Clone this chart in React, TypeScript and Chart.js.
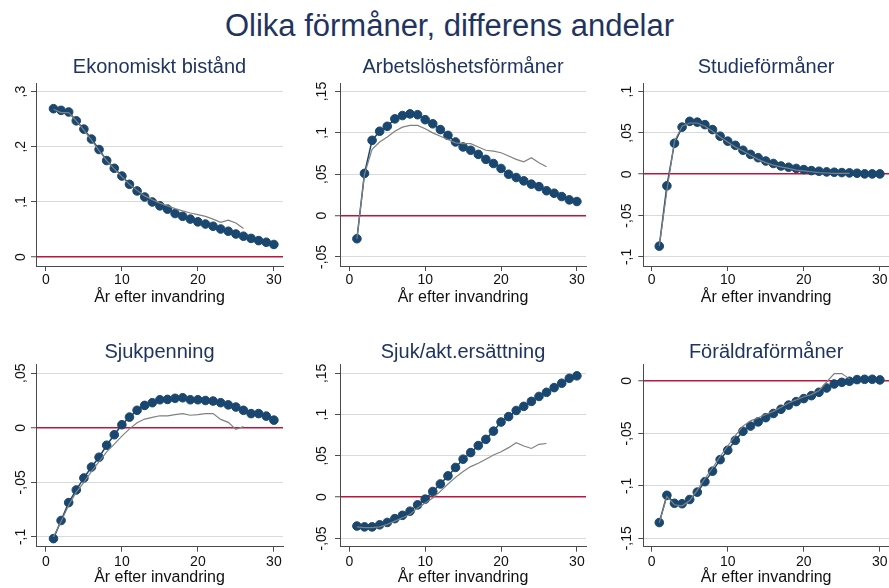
import React, { useEffect, useRef } from 'react';
import { Chart, registerables } from 'chart.js';

Chart.register(...registerables);

const FONT = '"Liberation Sans", Arial, Helvetica, sans-serif';
const NAVY = '#1a476f';
const GRAY = '#808080';
const TITLE_COLOR = '#1f3461';
const RED = '#c0143c';
const GRID = '#d9d9d9';
const AXIS = '#4a4a4a';
const TEXT = '#111111';
const TICK_SIZE = 14;
const TICK_LEN = 5;

// ---------- data ----------
const mainTitle = 'Olika förmåner, differens andelar';
const xTitle = 'År efter invandring';
const xTicks = [0, 10, 20, 30];

const years = [1, 2, 3, 4, 5, 6, 7, 8, 9, 10, 11, 12, 13, 14, 15, 16, 17, 18, 19, 20, 21, 22, 23, 24, 25, 26, 27, 28, 29, 30];
const yearsRef = [1, 2, 3, 4, 5, 6, 7, 8, 9, 10, 11, 12, 13, 14, 15, 16, 17, 18, 19, 20, 21, 22, 23, 24, 25, 26];

const ekonomisktBistand = [0.269, 0.266, 0.263, 0.247, 0.232, 0.214, 0.195, 0.175, 0.161, 0.147, 0.132, 0.120, 0.109, 0.100, 0.093, 0.087, 0.079, 0.074, 0.069, 0.064, 0.060, 0.056, 0.051, 0.047, 0.042, 0.038, 0.034, 0.030, 0.027, 0.023];
const ekonomisktBistandRef = [0.268, 0.262, 0.262, 0.247, 0.230, 0.212, 0.193, 0.175, 0.160, 0.146, 0.132, 0.121, 0.111, 0.104, 0.098, 0.093, 0.088, 0.084, 0.080, 0.077, 0.074, 0.069, 0.063, 0.067, 0.062, 0.052];

const arbetsloshet = [-0.028, 0.051, 0.091, 0.102, 0.108, 0.117, 0.121, 0.123, 0.122, 0.116, 0.111, 0.104, 0.097, 0.089, 0.083, 0.079, 0.074, 0.068, 0.063, 0.057, 0.050, 0.046, 0.042, 0.038, 0.035, 0.030, 0.027, 0.023, 0.019, 0.017];
const arbetsloshetRef = [-0.028, 0.050, 0.080, 0.089, 0.095, 0.102, 0.107, 0.109, 0.109, 0.105, 0.100, 0.096, 0.092, 0.088, 0.087, 0.087, 0.083, 0.079, 0.078, 0.076, 0.072, 0.068, 0.065, 0.070, 0.064, 0.059];

const studie = [-0.087, -0.014, 0.0375, 0.057, 0.064, 0.063, 0.060, 0.054, 0.046, 0.040, 0.035, 0.029, 0.024, 0.020, 0.016, 0.013, 0.010, 0.0085, 0.007, 0.0056, 0.0044, 0.0036, 0.0028, 0.0024, 0.002, 0.0016, 0.0012, 0.0004, 0.0004, 0.0004];
const studieRef = [-0.087, -0.020, 0.040, 0.058, 0.062, 0.062, 0.058, 0.052, 0.045, 0.039, 0.033, 0.028, 0.023, 0.018, 0.014, 0.011, 0.009, 0.007, 0.005, 0.004, 0.003, 0.002, 0.0015, 0.001, 0.001, 0.001];

const sjukpenning = [-0.1016, -0.085, -0.0686, -0.057, -0.046, -0.036, -0.027, -0.016, -0.0064, 0.0028, 0.0098, 0.016, 0.0205, 0.023, 0.0257, 0.026, 0.027, 0.0275, 0.0257, 0.0257, 0.025, 0.0245, 0.023, 0.021, 0.019, 0.016, 0.013, 0.013, 0.0107, 0.007];
const sjukpenningRef = [-0.100, -0.086, -0.071, -0.059, -0.050, -0.040, -0.031, -0.022, -0.015, -0.0077, -0.001, 0.0046, 0.008, 0.0095, 0.011, 0.011, 0.012, 0.013, 0.0115, 0.012, 0.013, 0.013, 0.0077, 0.005, -0.0015, 0.001];

const sjukAkt = [-0.035, -0.036, -0.036, -0.0335, -0.0306, -0.026, -0.022, -0.017, -0.0093, -0.0024, 0.0069, 0.016, 0.0258, 0.036, 0.046, 0.054, 0.0625, 0.070, 0.080, 0.091, 0.0976, 0.105, 0.110, 0.116, 0.122, 0.127, 0.1327, 0.138, 0.144, 0.147];
const sjukAktRef = [-0.036, -0.037, -0.037, -0.036, -0.033, -0.029, -0.025, -0.021, -0.013, -0.007, -0.001, 0.007, 0.016, 0.024, 0.031, 0.037, 0.041, 0.046, 0.051, 0.055, 0.060, 0.066, 0.062, 0.059, 0.064, 0.065];

const foraldra = [-0.135, -0.109, -0.1166, -0.117, -0.113, -0.106, -0.096, -0.086, -0.075, -0.066, -0.0566, -0.048, -0.043, -0.039, -0.035, -0.031, -0.027, -0.023, -0.0197, -0.0168, -0.014, -0.0108, -0.0067, -0.0029, -0.0013, -0.0003, 0.0013, 0.0016, 0.0016, 0.001];
const foraldraRef = [-0.135, -0.110, -0.118, -0.119, -0.114, -0.104, -0.093, -0.083, -0.072, -0.062, -0.052, -0.043, -0.038, -0.035, -0.032, -0.029, -0.025, -0.021, -0.018, -0.015, -0.013, -0.009, -0.001, 0.007, 0.007, 0.002];

const yTicks1 = [0, 0.1, 0.2, 0.3];
const yTicks2 = [-0.05, 0, 0.05, 0.1, 0.15];
const yTicks3 = [-0.1, -0.05, 0, 0.05, 0.1];
const yTicks4 = [-0.1, -0.05, 0, 0.05];
const yTicks5 = [-0.05, 0, 0.05, 0.1, 0.15];
const yTicks6 = [-0.15, -0.1, -0.05, 0];

type Panel = {
  title: string;
  main: number[];
  ref: number[];
  yTicks: number[];
  yMin: number;
  yMax: number;
  col: number;
  row: number;
};

const panels: Panel[] = [
  { title: 'Ekonomiskt bistånd', main: ekonomisktBistand, ref: ekonomisktBistandRef, yTicks: yTicks1, yMin: -0.016, yMax: 0.315, col: 0, row: 0 },
  { title: 'Arbetslöshetsförmåner', main: arbetsloshet, ref: arbetsloshetRef, yTicks: yTicks2, yMin: -0.061, yMax: 0.160, col: 1, row: 0 },
  { title: 'Studieförmåner', main: studie, ref: studieRef, yTicks: yTicks3, yMin: -0.111, yMax: 0.110, col: 2, row: 0 },
  { title: 'Sjukpenning', main: sjukpenning, ref: sjukpenningRef, yTicks: yTicks4, yMin: -0.109, yMax: 0.058, col: 0, row: 1 },
  { title: 'Sjuk/akt.ersättning', main: sjukAkt, ref: sjukAktRef, yTicks: yTicks5, yMin: -0.060, yMax: 0.1607, col: 1, row: 1 },
  { title: 'Föräldraförmåner', main: foraldra, ref: foraldraRef, yTicks: yTicks6, yMin: -0.158, yMax: 0.0157, col: 2, row: 1 },
];

// ---------- layout ----------
const COLS = [
  { left: 0, width: 296, axisW: 36, padRight: 13, labelOffset: 14.5, xMin: -1.3 },
  { left: 296, width: 296, axisW: 44, padRight: 6, labelOffset: 17.5, xMin: -1.23 },
  { left: 592, width: 297, axisW: 51.3, padRight: 0, labelOffset: 16, xMin: -1.1 },
];
const X_MAX = 31.2;
const ROWS = [
  { top: 45, height: 268, titlePadTop: 12.5, titlePadBottom: 5.8, xAxisH: 47, xLabelPad: 1, xTitlePadBottom: 5.4 },
  { top: 330, height: 258, titlePadTop: 12.5, titlePadBottom: 2, xAxisH: 41.3, xLabelPad: 2, xTitlePadBottom: 0.4 },
];

function fmt(v: number): string {
  if (v === 0) return '0';
  const s = Math.abs(v).toString().replace(/^0\./, ',');
  return (v < 0 ? '-' : '') + s;
}

function PanelChart({ p }: { p: Panel }) {
  const ref = useRef<HTMLCanvasElement>(null);
  const col = COLS[p.col];
  const row = ROWS[p.row];
  useEffect(() => {
    const m = document.createElement('canvas').getContext('2d')!;
    m.font = `${TICK_SIZE}px ${FONT}`;
    const widest = Math.max(...p.yTicks.map((v) => m.measureText(fmt(v)).width));
    const yPad = col.labelOffset - TICK_LEN - widest / 2;
    const tickFont = { family: FONT, size: TICK_SIZE, lineHeight: 1.2 };
    const chart = new Chart(ref.current!, {
      type: 'line',
      data: {
        datasets: [
          {
            data: yearsRef.map((x, i) => ({ x, y: p.ref[i] })),
            borderColor: GRAY,
            borderWidth: 1.2,
            pointRadius: 0,
            tension: 0,
          },
          {
            data: years.map((x, i) => ({ x, y: p.main[i] })),
            borderColor: NAVY,
            backgroundColor: NAVY,
            borderWidth: 1.5,
            pointRadius: 4.3,
            pointBorderWidth: 1,
            pointBackgroundColor: NAVY,
            pointBorderColor: NAVY,
            tension: 0,
          },
        ],
      },
      options: {
        animation: false,
        responsive: false,
        devicePixelRatio: 1,
        layout: { padding: { left: 0, right: col.padRight, top: 0, bottom: 0 }, autoPadding: false },
        plugins: {
          legend: { display: false },
          tooltip: { enabled: false },
          title: {
            display: true,
            fullSize: false,
            text: p.title,
            color: TITLE_COLOR,
            font: { family: FONT, size: 20, weight: 'normal', lineHeight: 1 },
            padding: { top: row.titlePadTop, bottom: row.titlePadBottom },
          },
        },
        scales: {
          x: {
            type: 'linear',
            min: col.xMin,
            max: X_MAX,
            bounds: 'data',
            afterBuildTicks: (s: any) => {
              s.ticks = xTicks.map((v) => ({ value: v }));
            },
            afterFit: (s: any) => {
              s.height = row.xAxisH;
              s.paddingLeft = 0;
              s.paddingRight = 0;
            },
            ticks: {
              autoSkip: false,
              minRotation: 0,
              maxRotation: 0,
              padding: row.xLabelPad,
              color: TEXT,
              font: tickFont,
              callback: (v: any) => String(v),
            },
            grid: { drawOnChartArea: false, drawTicks: true, tickLength: TICK_LEN, tickColor: AXIS, tickWidth: 1 },
            border: { display: true, color: AXIS, width: 1 },
            title: {
              display: true,
              text: xTitle,
              color: TEXT,
              font: { family: FONT, size: 16, lineHeight: 1.2 },
              padding: { top: 0, bottom: row.xTitlePadBottom },
            },
          },
          y: {
            type: 'linear',
            min: p.yMin,
            max: p.yMax,
            bounds: 'data',
            afterBuildTicks: (s: any) => {
              s.ticks = p.yTicks.map((v) => ({ value: v }));
            },
            afterFit: (s: any) => {
              s.width = col.axisW;
              s.paddingTop = 0;
              s.paddingBottom = 0;
            },
            ticks: {
              autoSkip: false,
              minRotation: 90,
              maxRotation: 90,
              crossAlign: 'center',
              padding: yPad,
              color: TEXT,
              font: tickFont,
              callback: (v: any) => fmt(Number(v)),
            },
            grid: {
              color: (ctx: any) => (ctx.tick && ctx.tick.value === 0 ? RED : GRID),
              lineWidth: (ctx: any) => (ctx.tick && ctx.tick.value === 0 ? 1.5 : 1),
              drawTicks: true,
              tickLength: TICK_LEN,
              tickColor: AXIS,
              tickWidth: 1,
            },
            border: { display: true, color: AXIS, width: 1 },
          },
        },
      } as any,
    });
    return () => chart.destroy();
  }, []);
  return (
    <canvas
      ref={ref}
      width={col.width}
      height={row.height}
      style={{ position: 'absolute', left: col.left, top: row.top, width: col.width, height: row.height, display: 'block' }}
    />
  );
}

export default function App() {
  return (
    <div style={{ position: 'fixed', left: 0, top: 0, width: 889, height: 588, background: '#ffffff', overflow: 'hidden' }}>
      <div
        style={{
          position: 'absolute',
          left: 5,
          top: 8,
          width: 889,
          textAlign: 'center',
          fontFamily: FONT,
          fontSize: 31,
          lineHeight: '36px',
          color: TITLE_COLOR,
          whiteSpace: 'nowrap',
        }}
      >
        {mainTitle}
      </div>
      {panels.map((p, i) => (
        <PanelChart key={i} p={p} />
      ))}
    </div>
  );
}
